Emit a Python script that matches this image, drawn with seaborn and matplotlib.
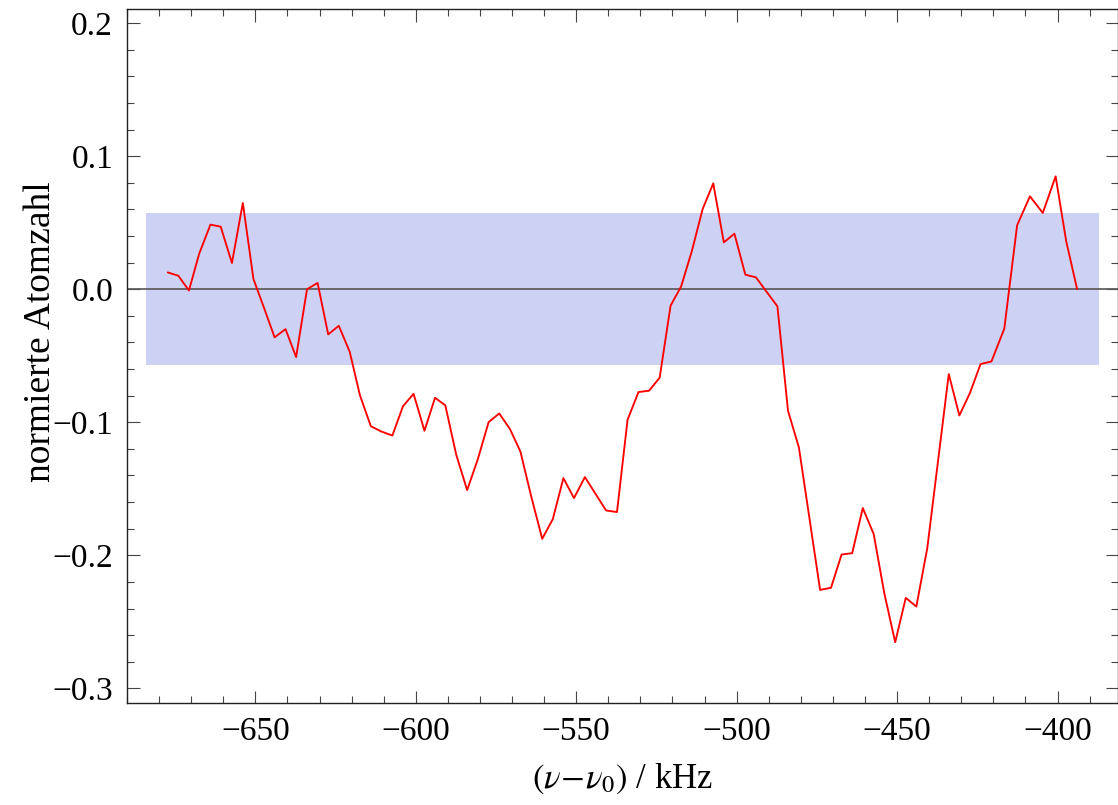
import numpy as np
import pandas as pd
import matplotlib
matplotlib.use("Agg")
import matplotlib.pyplot as plt
from matplotlib.ticker import MultipleLocator
import seaborn as sns

# detuning (kHz) and normalised atom number
freq = [-677.3, -674.0, -670.7, -667.5, -664.0, -660.8, -657.3, -653.9, -650.6, -647.2,
        -644.0, -640.6, -637.3, -633.9, -630.6, -627.3, -624.0, -620.6, -617.4, -614.0,
        -610.7, -607.3, -604.0, -600.7, -597.3, -594.0, -590.8, -587.4, -584.0, -580.7,
        -577.3, -574.0, -570.7, -567.4, -564.0, -560.6, -557.3, -554.0, -550.7, -547.3,
        -540.7, -537.3, -534.0, -530.6, -527.3, -524.0, -520.6, -517.3, -514.0, -510.6,
        -507.3, -504.0, -500.7, -497.3, -494.0, -487.3, -484.0, -480.6, -474.0, -470.6,
        -467.3, -464.0, -460.7, -457.3, -454.0, -450.6, -447.3, -444.0, -440.6, -433.9,
        -430.6, -427.3, -424.0, -420.6, -416.6, -412.6, -408.6, -404.6, -400.6, -397.3,
        -393.9]
atoms = [0.0126, 0.0101, -0.001, 0.0267, 0.0485, 0.047, 0.0197, 0.0648, 0.0077, -0.0147,
         -0.0362, -0.030, -0.051, 0.0, 0.0047, -0.034, -0.0275, -0.047, -0.0798, -0.103,
         -0.107, -0.110, -0.088, -0.0786, -0.1064, -0.0816, -0.0873, -0.1244, -0.151, -0.128,
         -0.0999, -0.0934, -0.1049, -0.122, -0.156, -0.1876, -0.1728, -0.142, -0.157, -0.1412,
         -0.1663, -0.1675, -0.0981, -0.0773, -0.0763, -0.0665, -0.0124, 0.0021, 0.0284, 0.0603,
         0.0795, 0.0352, 0.0417, 0.0109, 0.0089, -0.0129, -0.0914, -0.119, -0.226, -0.2244,
         -0.1994, -0.1984, -0.1645, -0.184, -0.2284, -0.2653, -0.232, -0.2385, -0.1946, -0.0638,
         -0.0949, -0.078, -0.0563, -0.0543, -0.0297, 0.048, 0.0698, 0.0573, 0.0848, 0.036,
         0.0]

# noise band
band_x = [-684.0, -387.2]
band_y = [-0.057, 0.057]

df = pd.DataFrame({"freq": freq, "atoms": atoms})

sns.set_style("ticks")
plt.rcParams["font.family"] = ["Liberation Serif", "DejaVu Serif"]
plt.rcParams["mathtext.fontset"] = "stix"
plt.rcParams["text.color"] = "black"
plt.rcParams["axes.labelcolor"] = "black"
plt.rcParams["xtick.labelcolor"] = "black"
plt.rcParams["ytick.labelcolor"] = "black"

fig = plt.figure(figsize=(11.18, 8.05), dpi=100)
ax = fig.add_axes([0.1136, 0.1267, 0.886, 0.862])

ax.fill_between(band_x, band_y[0], band_y[1], color="#cdd2f4", lw=0, zorder=1)
ax.axhline(0, color="#555555", lw=1.2, zorder=2)
sns.lineplot(data=df, x="freq", y="atoms", color="red", lw=1.35, ax=ax, zorder=3)

ax.set_xlim(-690, -381.3)
ax.set_ylim(-0.311, 0.2105)
ax.xaxis.set_major_locator(MultipleLocator(50))
ax.xaxis.set_minor_locator(MultipleLocator(10))
ax.yaxis.set_major_locator(MultipleLocator(0.1))
ax.yaxis.set_minor_locator(MultipleLocator(0.02))
ax.xaxis.set_major_formatter(lambda v, p: f"{v:.0f}".replace("-", "\u2212"))
ax.yaxis.set_major_formatter(lambda v, p: f"{v:.1f}".replace("-", "\u2212"))

ax.tick_params(which="both", direction="in", top=True, right=True, color="#444444",
               width=0.8, labelsize=24, pad=10)
ax.tick_params(which="major", length=9)
ax.tick_params(which="minor", length=5)
for s in ax.spines.values():
    s.set_color("#222222")
    s.set_linewidth(1.0)

ax.set_xlabel(r"$(\nu\!-\!\nu_0)$ / kHz", fontsize=25, labelpad=10)
ax.set_ylabel("normierte Atomzahl", fontsize=27)
ax.yaxis.set_label_coords(-0.07, 0.535)

fig.savefig("out.png", dpi=100)
